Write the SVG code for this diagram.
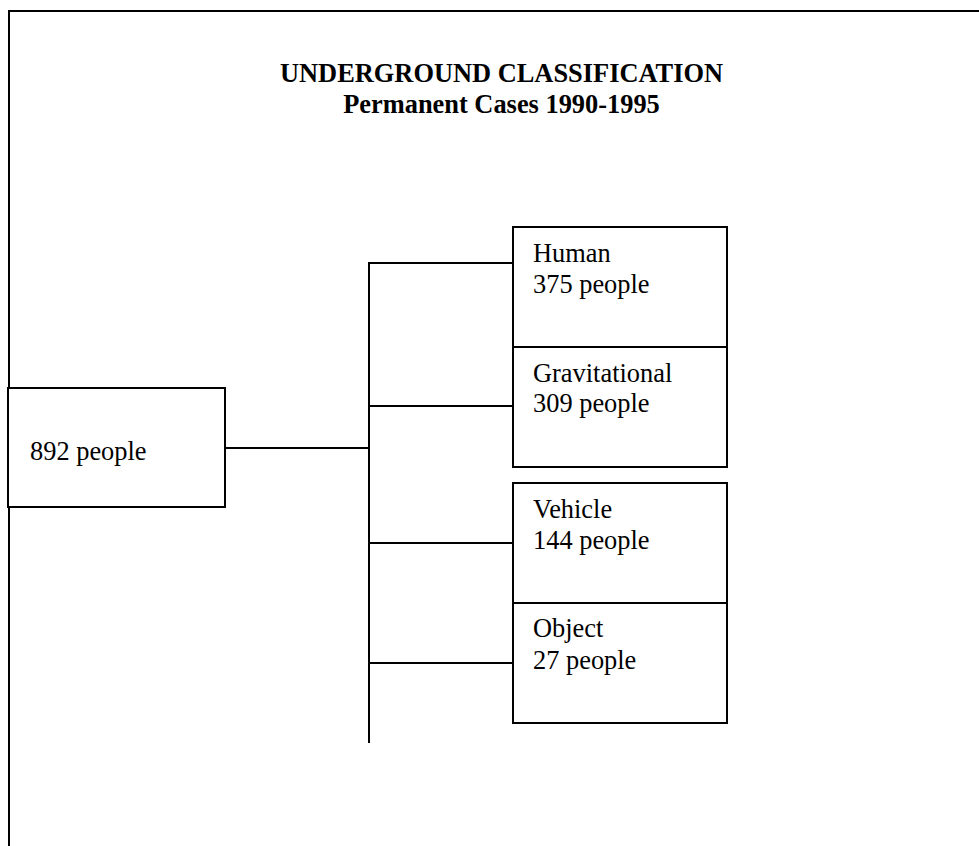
<svg xmlns="http://www.w3.org/2000/svg" width="979" height="846" viewBox="0 0 979 846">
<style>
.box{fill:#fff;stroke:#000;stroke-width:2}
.ln{stroke:#000;stroke-width:2;fill:none}
.t{font-family:"Liberation Serif","Times New Roman",serif;font-size:26.4px;fill:#000}
.h{font-family:"Liberation Serif","Times New Roman",serif;font-size:26.4px;font-weight:bold;fill:#000;text-anchor:middle}
</style>
<rect width="979" height="846" fill="#fff"/>
<g id="frame">
<path class="ln" d="M9,846 V11 H979"/>
</g>
<g id="title">
<text class="h" x="501.5" y="82">UNDERGROUND CLASSIFICATION</text>
<text class="h" x="501.5" y="113">Permanent Cases 1990-1995</text>
</g>
<g id="connectors">
<path class="ln" d="M225,448 H369"/>
<path class="ln" d="M369,262 V743"/>
<path class="ln" d="M369,263 H513"/>
<path class="ln" d="M369,406 H513"/>
<path class="ln" d="M369,543 H513"/>
<path class="ln" d="M369,663 H513"/>
</g>
<g id="root">
<rect class="box" x="8" y="388" width="217" height="119"/>
<text class="t" x="30" y="460">892 people</text>
</g>
<g id="human">
<rect class="box" x="513" y="227" width="214" height="120"/>
<text class="t" x="533" y="262">Human</text>
<text class="t" x="533" y="292.5">375 people</text>
</g>
<g id="gravitational">
<rect class="box" x="513" y="347" width="214" height="120"/>
<text class="t" x="533" y="382">Gravitational</text>
<text class="t" x="533" y="412">309 people</text>
</g>
<g id="vehicle">
<rect class="box" x="513" y="483" width="214" height="120"/>
<text class="t" x="533" y="517.5">Vehicle</text>
<text class="t" x="533" y="549">144 people</text>
</g>
<g id="object">
<rect class="box" x="513" y="603" width="214" height="120"/>
<text class="t" x="533" y="637">Object</text>
<text class="t" x="533" y="668.5">27 people</text>
</g>
</svg>
